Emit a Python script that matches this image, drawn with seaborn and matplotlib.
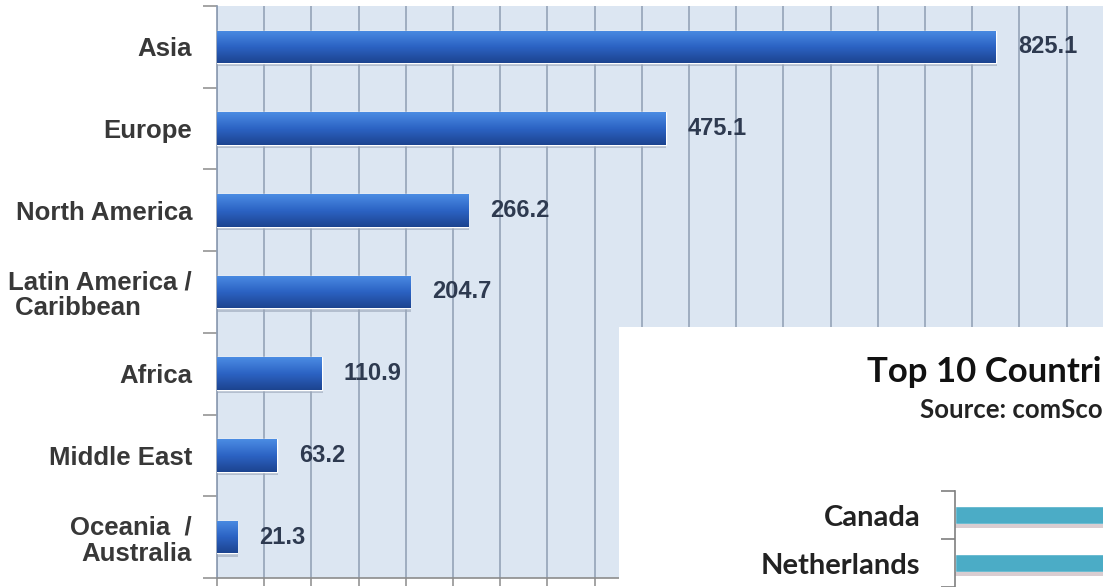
import numpy as np
import pandas as pd
import matplotlib
matplotlib.use("Agg")
import matplotlib.pyplot as plt
from matplotlib.colors import LinearSegmentedColormap
from matplotlib.patches import Rectangle
import seaborn as sns

# ---- data ----
regions = ["Asia", "Europe", "North America", "Latin America /\n Caribbean",
           "Africa", "Middle East", "Oceania  /\nAustralia"]
users = [825.1, 475.1, 266.2, 204.7, 110.9, 63.2, 21.3]
value_labels = ["825.1", "475.1", "266.2", "204.7", "110.9", "63.2", "21.3"]

inset_title = "Top 10 Countri"
inset_source = "Source: comSco"
inset_countries = ["Canada", "Netherlands"]
inset_values = [24.6, 12.5]

sns.set_theme(style="white")
plt.rcParams["font.family"] = ["Liberation Sans", "DejaVu Sans"]

W, H = 1103, 587
fig = plt.figure(figsize=(W / 100, H / 100), dpi=100)
fig.patch.set_facecolor("white")

def fx(px):
    return px / W

def fy(py):
    return 1 - py / H

# ---- main axes ----
left, right, top, bottom = 217, 1103, 6, 578
ax = fig.add_axes([fx(left), fy(bottom), fx(right - left), fy(top) - fy(bottom)])
df = pd.DataFrame({"region": regions, "users": users})
sns.barplot(data=df, x="users", y="region", orient="h", ax=ax,
            color="#2A5FBE", width=0.4, saturation=1, zorder=3)
ax.set_facecolor("#DCE6F2")
scale = 0.9441  # px per unit
xmax = (right - left) / scale
ax.set_xlim(0, xmax)
ax.set_ylim(6.5, -0.5)
ax.set_xlabel("")
ax.set_ylabel("")
ax.set_xticks(np.arange(0, xmax, 50))
ax.set_xticklabels([])
ax.grid(axis="x", color="#8E9DB3", linewidth=1.1, zorder=1)
ax.set_axisbelow(True)
for s in ["top", "right"]:
    ax.spines[s].set_visible(False)
ax.spines["left"].set_color("#8E9DB3")
ax.spines["bottom"].set_color("#8C8C8C")
ax.spines["bottom"].set_linewidth(1.2)
ax.tick_params(axis="x", which="major", length=6, color="#8C8C8C", width=1.1,
               bottom=True)
ax.set_yticks(np.arange(len(regions)))
ax.tick_params(axis="y", which="major", length=0, pad=18)
ax.set_yticks(np.arange(-0.5, len(regions), 1), minor=True)
ax.tick_params(axis="y", which="minor", length=10, color="#8C8C8C", width=1.1, left=True)
ax.set_yticklabels(regions, fontsize=18.5, fontweight="bold", color="#383838")
for lbl in ax.get_yticklabels():
    t = lbl.get_text()
    if t.startswith("Latin"):
        lbl.set_multialignment("left")
    else:
        lbl.set_multialignment("right")
    lbl.set_linespacing(1.1)

# gradient fill for bars
cmap = LinearSegmentedColormap.from_list("bargrad", ["#4B8CE3", "#2C63C4", "#1C4490"])
grad = np.linspace(0, 1, 64).reshape(-1, 1)
for patch in ax.patches:
    x0, y0 = patch.get_x(), patch.get_y()
    w, h = patch.get_width(), patch.get_height()
    im = ax.imshow(grad, cmap=cmap, aspect="auto", extent=(x0, x0 + w, y0 + h, y0),
                   zorder=4, interpolation="bilinear")
    im.set_clip_path(patch)
    # soft shadow
    ax.add_patch(Rectangle((x0 + 1, y0 + h), w, 0.04, color="#9AA6B8", alpha=0.6,
                           zorder=2.5, linewidth=0))
ax.set_xlim(0, xmax)
ax.set_ylim(6.5, -0.5)

ax.bar_label(ax.containers[0], labels=value_labels, padding=16, fontsize=17,
             fontweight="bold", color="#2E3A50", zorder=6)

# ---- inset chart (white box) ----
box = fig.add_axes([fx(619), 0, fx(W - 619), fy(327)])
box.set_facecolor("white")
box.set_xticks([])
box.set_yticks([])
for s in box.spines.values():
    s.set_visible(False)
box.set_zorder(5)

fig.text(fx(867), fy(372), inset_title, fontsize=25, fontweight="bold",
         family=["Lato", "DejaVu Sans"], color="#111111", ha="left", va="center",
         zorder=20)
fig.text(fx(920), fy(410), inset_source, fontsize=18.5, fontweight="bold",
         family=["Lato", "DejaVu Sans"], color="#222222", ha="left", va="center",
         zorder=20)

in_left, in_top = 955, 491
iax = fig.add_axes([fx(in_left), 0, fx(W - in_left), fy(in_top)])
iax.set_zorder(6)
idf = pd.DataFrame({"country": inset_countries, "value": inset_values})
sns.barplot(data=idf, x="value", y="country", orient="h", ax=iax,
            color="#4BACC6", width=0.38, saturation=1)
iax.set_facecolor("white")
spacing = 55
iax.set_ylim(-0.5 + (H - in_top) / spacing, -0.5)
iax.set_xlim(0, 10)
iax.set_xlabel("")
iax.set_ylabel("")
iax.set_xticks([])
for s in ["top", "right", "bottom"]:
    iax.spines[s].set_visible(False)
iax.spines["left"].set_color("#7F7F7F")
iax.spines["left"].set_linewidth(1.2)
iax.set_yticks([0, 1])
iax.tick_params(axis="y", which="major", length=0, pad=25)
iax.set_yticks([-0.5, 0.5, 1.5], minor=True)
iax.tick_params(axis="y", which="minor", length=10, color="#7F7F7F", width=1.2, left=True)
iax.set_yticklabels(inset_countries, fontsize=21, fontweight="bold",
                    family=["Lato", "DejaVu Sans"], color="#222222")
for patch in iax.patches:
    x0, y0 = patch.get_x(), patch.get_y()
    w, h = patch.get_width(), patch.get_height()
    iax.add_patch(Rectangle((x0, y0 + h), w, 0.08, color="#C9B9BE", alpha=0.7,
                            linewidth=0, zorder=1))

fig.savefig("out.png", dpi=100, facecolor="white")
